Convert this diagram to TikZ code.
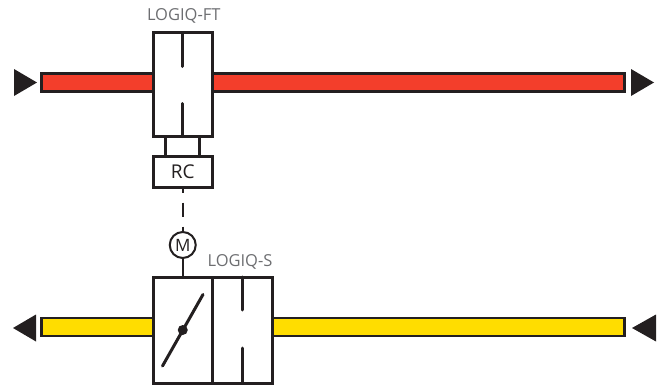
\documentclass[tikz,border=0pt]{standalone}
\usepackage{fontspec}
\setmainfont{Open Sans}
\usepackage{tikz}
\usetikzlibrary{positioning}
\definecolor{lineblack}{HTML}{231F20}
\definecolor{labelgray}{HTML}{6D6E71}
\definecolor{ftred}{HTML}{F33E2B}
\definecolor{syellow}{HTML}{FFDD00}
\begin{document}
\begin{tikzpicture}[x=1pt,y=-1pt,line cap=butt,
   pipe/.style n args={3}{draw=lineblack,line width=2.4pt,fill=#1,minimum width=#2pt,minimum height=#3pt,inner sep=0pt,outer sep=0pt},
   valve/.style n args={2}{draw=lineblack,line width=3pt,fill=white,minimum width=#1pt,minimum height=#2pt,inner sep=0pt,outer sep=0pt,font=\fontsize{19}{19}\selectfont,text=lineblack},
   tag/.style={font=\fontsize{16.5}{17}\selectfont,text=labelgray,inner sep=0pt},
   stub/.style={draw=lineblack,line width=3pt,line cap=round},
   thin/.style={draw=lineblack,line width=1.7pt}]
\useasboundingbox (0,0) rectangle (665,388);
% pipes
\node[pipe={ftred}{583}{18}] (ftpipe) at (333,82.5) {};
\node[pipe={syellow}{583}{18}] (spipe) at (333,327) {};
% flow direction
\foreach \xa/\xb/\ym in {14/37/82.5,631/654/82.5} {
   \fill[lineblack] (\xa,\ym-13.5) -- (\xb,\ym) -- (\xa,\ym+13.5) -- cycle;
}
\foreach \xa/\xb/\ym in {36/13/328,656/632/328} {
   \fill[lineblack] (\xa,\ym-13.5) -- (\xb,\ym) -- (\xa,\ym+13.5) -- cycle;
}
% upper valve
\node[valve={59.5}{104}] (ftbox) at (182.75,84.5) {};
\node[valve={59.5}{31}] (rcbox) at (182.75,172) {RC};
\node[tag,above=9pt of ftbox.north,xshift=1pt] (ftlabel) {LOGIQ-FT};
\draw[stub] (ftbox.north) -- ++(0,34);
\draw[stub] (ftbox.south) -- ++(0,-33);
\draw[stub] ([xshift=-17pt]ftbox.south) -- ([xshift=-17pt]rcbox.north);
\draw[stub] ([xshift=17pt]ftbox.south) -- ([xshift=17pt]rcbox.north);
% lower valve
\node[valve={59.5}{106}] (damperbox) at (182.75,330) {};
\node[valve={60}{106}] (gatebox) at (242.75,330) {};
\node[tag,anchor=base] (slabel) at (240,266) {LOGIQ-S};
\draw[stub] (gatebox.north) -- ++(0,33);
\draw[stub] (gatebox.south) -- ++(0,-35);
\coordinate (blade1) at (162.5,366);
\coordinate (blade2) at (203,294.5);
\draw[stub] (blade1) -- (blade2);
\fill[lineblack] (damperbox.center) circle (5);
% motor
\node[circle,thin,line width=2pt,fill=white,minimum size=26pt,inner sep=0pt,outer sep=0pt,font=\fontsize{17}{17}\selectfont,text=lineblack] (motor) at (182.75,245) {M};
\draw[thin] (motor) -- (damperbox);
\draw[thin,dash pattern=on 14pt off 10pt,dash phase=9pt] (rcbox) -- (motor);
\end{tikzpicture}
\end{document}
